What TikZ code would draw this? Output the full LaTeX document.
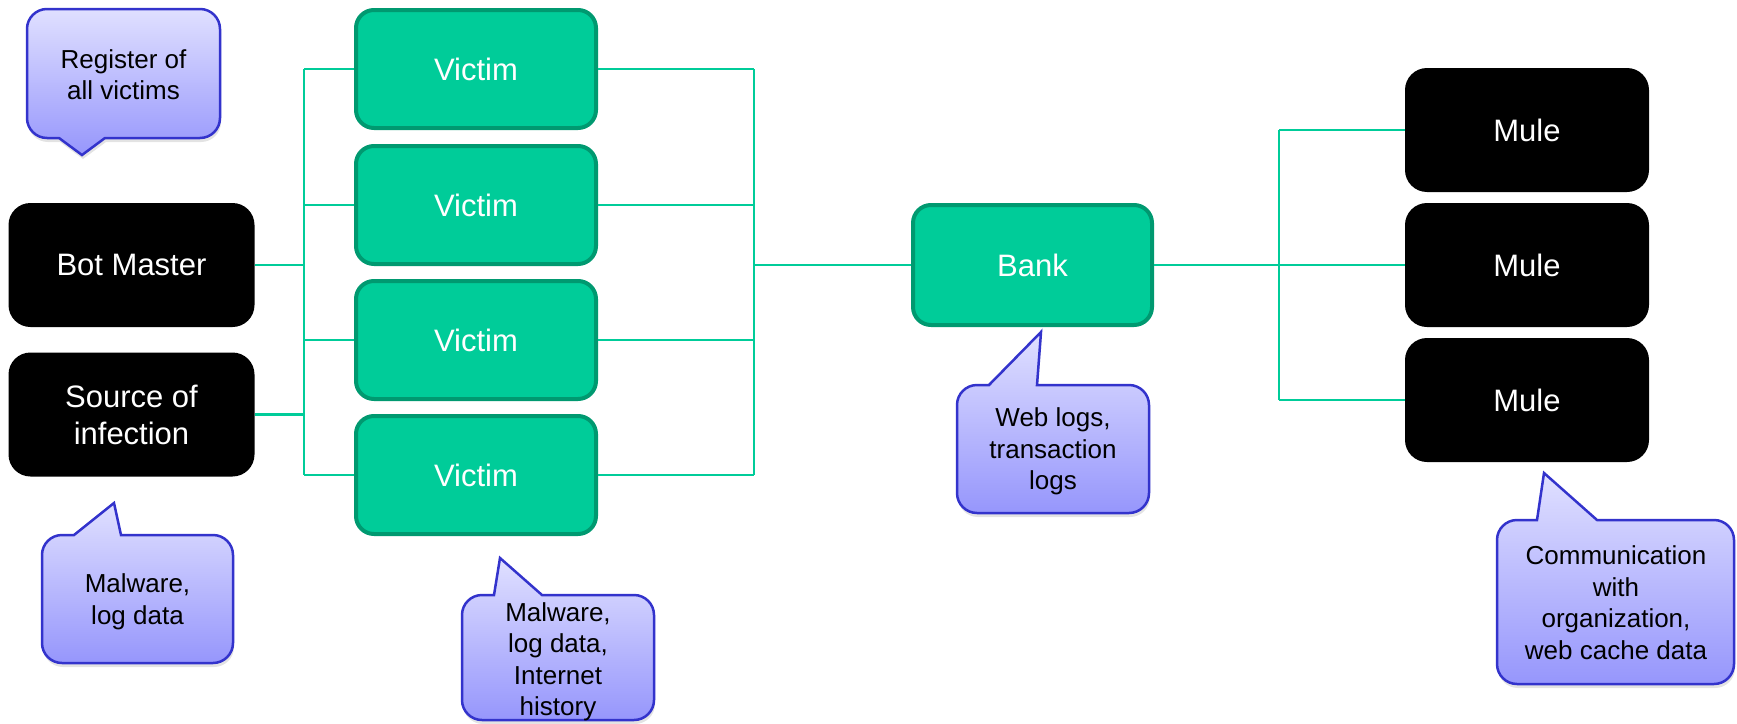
\documentclass[tikz,border=0pt]{standalone}
\usepackage{fontspec}
\setmainfont{Liberation Sans}
\usetikzlibrary{shadows}
\definecolor{gfill}{RGB}{0,204,153}
\definecolor{gline}{RGB}{0,153,112}
\definecolor{conncol}{RGB}{0,204,153}
\definecolor{cborder}{RGB}{51,51,204}
\definecolor{ctop}{RGB}{224,224,255}
\definecolor{cbot}{RGB}{150,150,252}
\newcommand{\bubbleup}[8]{% L T R B a b tx ty  (pixels, y downwards)
 \path[bubble] (#5,-#2) -- (#7,-#8) -- (#6,-#2) -- ({#3-20},-#2) arc[start angle=90,end angle=0,radius=20]
   -- (#3,{-#4+20}) arc[start angle=0,end angle=-90,radius=20]
   -- ({#1+20},-#4) arc[start angle=270,end angle=180,radius=20]
   -- (#1,{-#2-20}) arc[start angle=180,end angle=90,radius=20] -- cycle;}
\newcommand{\bubbledown}[8]{%
 \path[bubble] (#1,{-#2-20}) arc[start angle=180,end angle=90,radius=20]
   -- ({#3-20},-#2) arc[start angle=90,end angle=0,radius=20]
   -- (#3,{-#4+20}) arc[start angle=0,end angle=-90,radius=20]
   -- (#6,-#4) -- (#7,-#8) -- (#5,-#4)
   -- ({#1+20},-#4) arc[start angle=270,end angle=180,radius=20] -- cycle;}
\begin{document}
\begin{tikzpicture}[x=1pt,y=1pt,
  greenbox/.style={draw=gline, line width=4pt, fill=gfill, rounded corners=18pt,
    minimum width=240pt, minimum height=118pt, text=white,
    font=\fontsize{31}{37}\selectfont, align=center, inner sep=0pt},
  blackbox/.style={fill=black, rounded corners=22pt, minimum width=246pt,
    minimum height=124pt, text=white, font=\fontsize{31}{37}\selectfont,
    align=center, inner sep=0pt},
  conn/.style={draw=conncol, line width=2.5pt},
  bubble/.style={draw=cborder, line width=2.5pt, top color=ctop, bottom color=cbot,
    drop shadow={opacity=0.22, shadow xshift=1pt, shadow yshift=-4pt}},
  bubbletext/.style={font=\fontsize{26}{31.5}\selectfont, align=center,
    text=black, inner sep=0pt}
]
\useasboundingbox (0,0) rectangle (1737,-723);

% callouts
\bubbledown{27}{9}{220}{138}{59}{105}{82}{155}
\bubbleup{42}{535}{233}{663}{74}{121}{114}{503}
\bubbleup{462}{595}{654}{720}{494}{542}{500}{558}
\bubbleup{957}{385}{1149}{513}{989}{1037}{1041}{332}
\bubbleup{1497}{520}{1734}{684}{1537}{1597}{1544}{473}

\node[bubbletext] (t1) at (123.5,-74.5) {Register of\\all victims};
\node[bubbletext] (t2) at (137.5,-602) {Malware,\\log data};
\node[bubbletext] (t3) at (558,-662) {Malware,\\log data,\\Internet\\history};
\node[bubbletext] (t4) at (1053,-451.5) {Web logs,\\transaction\\logs};
\node[bubbletext] (t5) at (1616,-602.5) {Communication\\with\\organization,\\web cache data};

% boxes
\node[blackbox] (bm) at (131.5,-265) {Bot Master};
\node[blackbox] (src) at (131.5,-414.5) {Source of\\infection};
\node[greenbox] (v1) at (476,-69) {Victim};
\node[greenbox] (v2) at (476,-205) {Victim};
\node[greenbox] (v3) at (476,-340) {Victim};
\node[greenbox] (v4) at (476,-475) {Victim};
\node[greenbox, minimum width=239pt, minimum height=120pt] (bank) at (1032.5,-265) {Bank};
\node[blackbox, minimum width=244pt] (m1) at (1527,-130) {Mule};
\node[blackbox, minimum width=244pt] (m2) at (1527,-265) {Mule};
\node[blackbox, minimum width=244pt] (m3) at (1527,-400) {Mule};

% connectors
\coordinate (tL) at (304,0);
\coordinate (tR) at (754,0);
\coordinate (tM) at (1279,0);
\draw[conn] (bm.east) -- (bm.east -| tL);
\draw[conn] (src.east) -- (src.east -| tL);
\draw[conn] (v1.west -| tL) -- (v4.west -| tL);
\foreach \v in {v1,v2,v3,v4}{
  \draw[conn] (\v.west -| tL) -- (\v.west);
  \draw[conn] (\v.east) -- (\v.east -| tR);
}
\draw[conn] (v1.east -| tR) -- (v4.east -| tR);
\draw[conn] (bank.west -| tR) -- (bank.west);
\draw[conn] (bank.east) -- (m2.west);
\draw[conn] (m1.west -| tM) -- (m3.west -| tM);
\draw[conn] (m1.west -| tM) -- (m1.west);
\draw[conn] (m3.west -| tM) -- (m3.west);
\end{tikzpicture}
\end{document}
